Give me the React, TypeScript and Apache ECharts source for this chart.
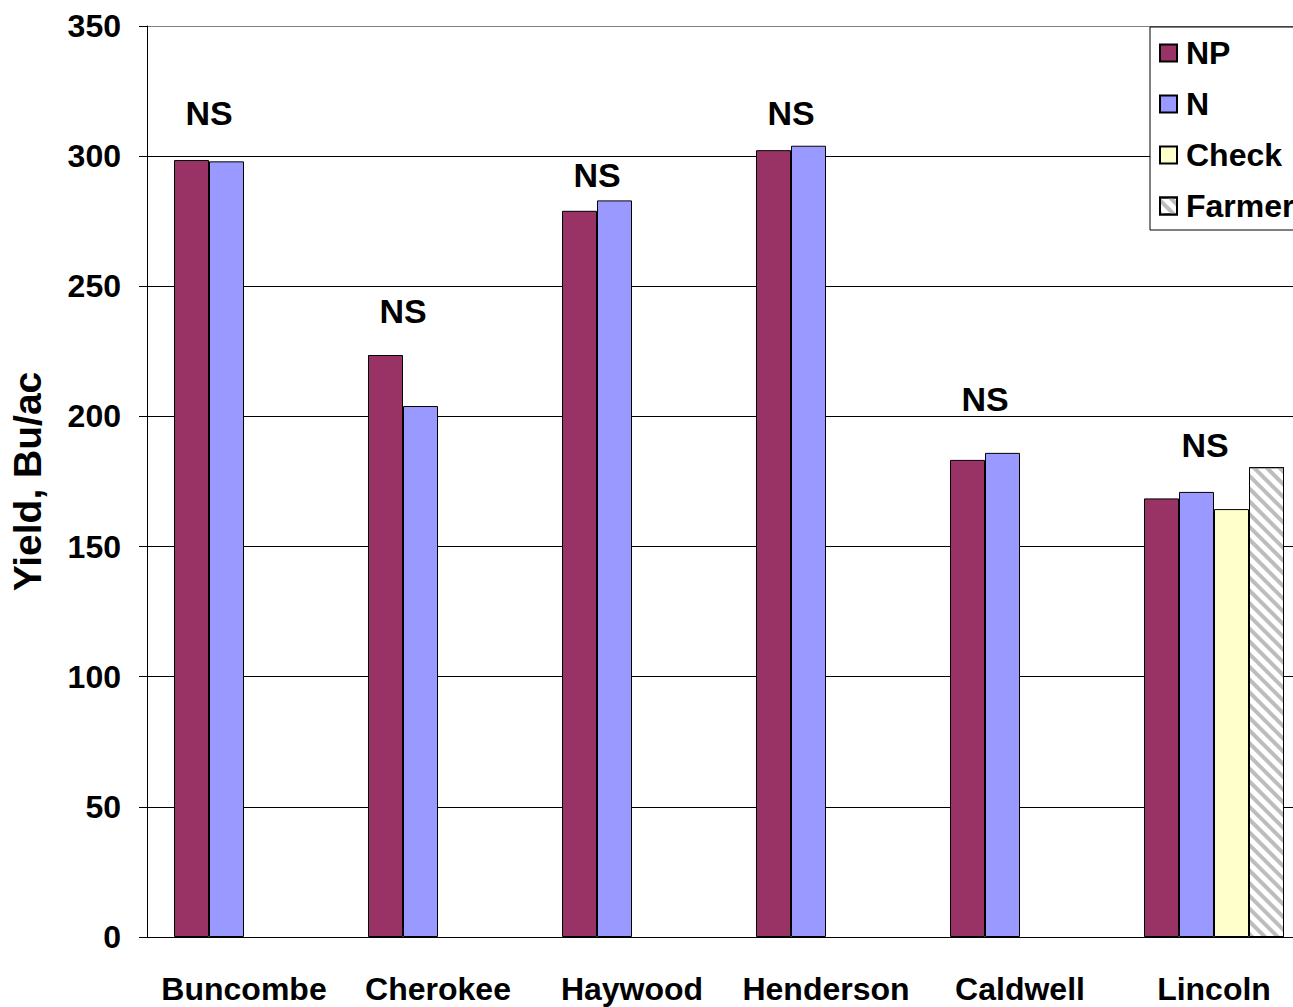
import React, { useEffect, useRef } from "react";
import * as echarts from "echarts";

const categories = ["Buncombe", "Cherokee", "Haywood", "Henderson", "Caldwell", "Lincoln"];
const npValues = [298.5, 223.6, 279, 302.3, 183.3, 168.5];
const nValues = [298, 204, 283, 304, 186, 171];
const checkValues = [null, null, null, null, null, 164.4];
const farmerValues = [null, null, null, null, null, 180.5];
const nsLevels = [316.6, 240.5, 292.7, 316.6, 206.7, 189];
const yTicks = { min: 0, max: 350, interval: 50 };

const FONT = "'Liberation Sans', Arial, sans-serif";

export default function App() {
  const ref = useRef<HTMLDivElement>(null);
  useEffect(() => {
    if (!ref.current) return;
    const chart = echarts.init(ref.current, undefined, { renderer: "svg" });
    const barBase = { type: "bar", barWidth: 35, barGap: "0%" };
    const border = { borderColor: "#000", borderWidth: 1 };
    chart.setOption({
      animation: false,
      textStyle: { fontFamily: FONT },
      grid: { left: 144, top: 26, bottom: 70, right: 0, containLabel: false },
      legend: {
        data: ["NP", "N", "Check", "Farmer"],
        orient: "vertical",
        left: 1150,
        top: 27,
        padding: [10, 30, 8, 9],
        itemWidth: 17,
        itemHeight: 17,
        itemGap: 19,
        borderColor: "#000",
        borderWidth: 1,
        borderRadius: 0,
        backgroundColor: "#fff",
        icon: "rect",
        textStyle: { fontSize: 32, fontWeight: "bold", color: "#000", fontFamily: FONT, padding: [0, 0, 0, 4] },
      },
      xAxis: {
        type: "category",
        data: categories,
        axisLine: { lineStyle: { color: "#000", width: 1 } },
        axisTick: { show: false },
        axisLabel: { interval: 0, fontSize: 32, fontWeight: "bold", color: "#000", margin: 36, fontFamily: FONT },
        splitLine: { show: false },
      },
      yAxis: {
        type: "value",
        min: yTicks.min,
        max: yTicks.max,
        interval: yTicks.interval,
        name: "Yield, Bu/ac",
        nameLocation: "middle",
        nameGap: 100,
        nameTextStyle: { fontSize: 39, fontWeight: "bold", color: "#000", fontFamily: FONT },
        axisLine: { show: true, lineStyle: { color: "#000", width: 1 } },
        axisTick: { show: true, length: 8, lineStyle: { color: "#000" } },
        axisLabel: { fontSize: 32, fontWeight: "bold", color: "#000", margin: 26, fontFamily: FONT },
        splitLine: {
          show: true,
          lineStyle: { color: ["#000", "#000", "#000", "#000", "#000", "#000", "#000", "#808080"], width: 1 },
        },
      },
      series: [
        { ...barBase, name: "NP", data: npValues, itemStyle: { color: "#993366", ...border } },
        { ...barBase, name: "N", data: nValues, itemStyle: { color: "#9999FF", ...border } },
        { ...barBase, name: "Check", data: checkValues, itemStyle: { color: "#FFFFCC", ...border } },
        {
          ...barBase,
          name: "Farmer",
          data: farmerValues,
          itemStyle: {
            color: "#ffffff",
            ...border,
            decal: {
              symbol: "rect",
              symbolSize: 1,
              color: "#bdbdbd",
              dashArrayX: [1, 0],
              dashArrayY: [4, 5],
              rotation: Math.PI / 4,
            },
          },
        },
        {
          type: "scatter",
          name: "NS",
          symbolSize: 0,
          silent: true,
          itemStyle: { opacity: 1 },
          data: nsLevels.map((v, i) => ({
            value: [i, v],
            label: { offset: [i === categories.length - 1 ? -9 : -35, 0] },
          })),
          label: {
            show: true,
            position: "inside",
            formatter: "NS",
            fontSize: 34,
            fontWeight: "bold",
            color: "#000",
            opacity: 1,
            fontFamily: FONT,
          },
        },
      ],
    });
    return () => chart.dispose();
  }, []);
  return (
    <div
      ref={ref}
      style={{ position: "fixed", left: 0, top: 0, width: 1311, height: 1007, background: "#fff" }}
    />
  );
}
